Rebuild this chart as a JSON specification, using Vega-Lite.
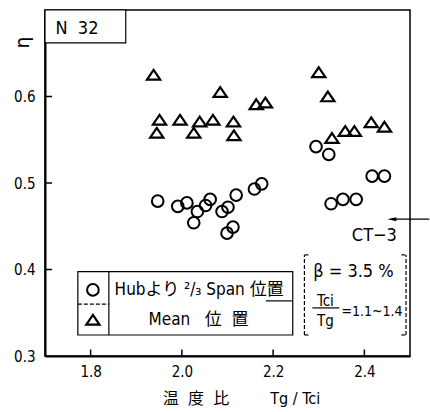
{
  "$schema": "https://vega.github.io/schema/vega-lite/v6.json",
  "width": 365,
  "height": 346,
  "autosize": {"type": "none"},
  "padding": {"left": 45, "top": 10, "right": 20, "bottom": 56},
  "background": "white",
  "config": {
    "font": "Liberation Sans Narrow, DejaVu Sans Condensed, Noto Sans CJK JP, sans-serif",
    "view": {"stroke": "black", "strokeWidth": 1.5},
    "axis": {
      "grid": false,
      "ticks": false,
      "domainColor": "black",
      "domainWidth": 2,
      "labelColor": "black",
      "labelFontSize": 15,
      "titleColor": "black",
      "titleFontWeight": "normal"
    }
  },
  "datasets": {
    "hub_span": [
      {"ratio": 1.947, "eta": 0.479},
      {"ratio": 1.991, "eta": 0.473},
      {"ratio": 2.011, "eta": 0.477},
      {"ratio": 2.034, "eta": 0.467},
      {"ratio": 2.026, "eta": 0.454},
      {"ratio": 2.052, "eta": 0.474},
      {"ratio": 2.062, "eta": 0.481},
      {"ratio": 2.088, "eta": 0.467},
      {"ratio": 2.101, "eta": 0.472},
      {"ratio": 2.119, "eta": 0.486},
      {"ratio": 2.099, "eta": 0.442},
      {"ratio": 2.112, "eta": 0.449},
      {"ratio": 2.159, "eta": 0.493},
      {"ratio": 2.175, "eta": 0.499},
      {"ratio": 2.294, "eta": 0.542},
      {"ratio": 2.322, "eta": 0.533},
      {"ratio": 2.417, "eta": 0.508},
      {"ratio": 2.444, "eta": 0.508},
      {"ratio": 2.327, "eta": 0.476},
      {"ratio": 2.353, "eta": 0.481},
      {"ratio": 2.382, "eta": 0.481}
    ],
    "mean": [
      {"ratio": 1.938, "eta": 0.625},
      {"ratio": 2.084, "eta": 0.605},
      {"ratio": 2.163, "eta": 0.591},
      {"ratio": 2.183, "eta": 0.593},
      {"ratio": 1.951, "eta": 0.573},
      {"ratio": 1.996, "eta": 0.573},
      {"ratio": 2.039, "eta": 0.571},
      {"ratio": 2.068, "eta": 0.573},
      {"ratio": 2.113, "eta": 0.571},
      {"ratio": 1.945, "eta": 0.558},
      {"ratio": 2.026, "eta": 0.558},
      {"ratio": 2.114, "eta": 0.555},
      {"ratio": 2.300, "eta": 0.628},
      {"ratio": 2.320, "eta": 0.600},
      {"ratio": 2.329, "eta": 0.552},
      {"ratio": 2.358, "eta": 0.560},
      {"ratio": 2.378, "eta": 0.560},
      {"ratio": 2.415, "eta": 0.570},
      {"ratio": 2.444, "eta": 0.565}
    ],
    "x_ticks": [{"value": 1.8}, {"value": 2.0}, {"value": 2.2}, {"value": 2.4}],
    "y_ticks": [{"value": 0.4}, {"value": 0.5}, {"value": 0.6}],
    "solid_lines": [
      {"x": 1.840, "x2": 1.840, "y": 0.3243, "y2": 0.3976},
      {"x": 2.184, "x2": 2.241, "y": 0.3637, "y2": 0.3637},
      {"x": 2.286, "x2": 2.345, "y": 0.3556, "y2": 0.3556},
      {"x": 2.458, "x2": 2.5424, "y": 0.4582, "y2": 0.4582}
    ],
    "dashed_lines": [
      {"x": 1.772, "x2": 1.840, "y": 0.360, "y2": 0.360},
      {"x": 2.2686, "x2": 2.2686, "y": 0.3243, "y2": 0.4169},
      {"x": 2.2686, "x2": 2.2796, "y": 0.4169, "y2": 0.4169},
      {"x": 2.2686, "x2": 2.2796, "y": 0.3243, "y2": 0.3243},
      {"x": 2.4913, "x2": 2.4913, "y": 0.3243, "y2": 0.4169},
      {"x": 2.481, "x2": 2.4913, "y": 0.4169, "y2": 0.4169},
      {"x": 2.481, "x2": 2.4913, "y": 0.3243, "y2": 0.3243}
    ]
  },
  "layer": [
    {
      "data": {"name": "hub_span"},
      "mark": {"type": "point", "shape": "circle", "filled": false, "color": "black", "strokeWidth": 2, "opacity": 1, "size": 135},
      "encoding": {
        "x": {
          "field": "ratio", "type": "quantitative",
          "scale": {"domain": [1.7, 2.5], "nice": false, "zero": false},
          "axis": {
            "values": [1.8, 2.0, 2.2, 2.4], "format": ".1f", "labelPadding": 8,
            "title": "温\u00a0\u00a0度\u00a0\u00a0比\u00a0\u00a0\u00a0\u00a0\u00a0\u00a0\u00a0\u00a0\u00a0Tg / Tci", "titleFontSize": 16,
            "titleX": 196, "titleY": 42, "titleAlign": "center", "titleBaseline": "middle"
          }
        },
        "y": {
          "field": "eta", "type": "quantitative",
          "scale": {"domain": [0.3, 0.7], "nice": false, "zero": false},
          "axis": {
            "values": [0.3, 0.4, 0.5, 0.6], "format": ".1f", "labelPadding": 10,
            "title": "η", "titleFontSize": 20, "titleAngle": -90,
            "titleX": -23, "titleY": 32, "titleAlign": "center", "titleBaseline": "middle"
          }
        }
      }
    },
    {
      "data": {"name": "mean"},
      "mark": {"type": "point", "shape": "M 0 -0.75 L 1 0.72 L -1 0.72 Z", "filled": false, "color": "black", "strokeWidth": 2.2, "opacity": 1, "size": 175},
      "encoding": {
        "x": {"field": "ratio", "type": "quantitative"},
        "y": {"field": "eta", "type": "quantitative"}
      }
    },
    {
      "data": {"name": "x_ticks"},
      "mark": {"type": "rule", "color": "black", "strokeWidth": 1.5},
      "encoding": {
        "x": {"field": "value", "type": "quantitative"},
        "y": {"datum": 0.3}, "y2": {"datum": 0.3075}
      }
    },
    {
      "data": {"name": "y_ticks"},
      "mark": {"type": "rule", "color": "black", "strokeWidth": 1.5},
      "encoding": {
        "y": {"field": "value", "type": "quantitative"},
        "x": {"datum": 1.7}, "x2": {"datum": 1.7155}
      }
    },
    {
      "data": {"values": [{}]},
      "mark": {"type": "rect", "fill": "white", "stroke": "black", "strokeWidth": 1.2},
      "encoding": {
        "x": {"datum": 1.7}, "x2": {"datum": 1.877},
        "y": {"datum": 0.7}, "y2": {"datum": 0.662}
      }
    },
    {
      "data": {"values": [{}]},
      "mark": {"type": "text", "text": "N\u00a0\u00a032", "fontSize": 18, "align": "center", "baseline": "middle", "color": "black"},
      "encoding": {"x": {"datum": 1.770}, "y": {"datum": 0.678}}
    },
    {
      "data": {"values": [{}]},
      "mark": {"type": "rect", "fill": "white", "stroke": "black", "strokeWidth": 1.2},
      "encoding": {
        "x": {"datum": 1.772}, "x2": {"datum": 2.243},
        "y": {"datum": 0.3976}, "y2": {"datum": 0.3243}
      }
    },
    {
      "data": {"name": "solid_lines"},
      "mark": {"type": "rule", "color": "black", "strokeWidth": 1.2},
      "encoding": {
        "x": {"field": "x", "type": "quantitative"}, "x2": {"field": "x2"},
        "y": {"field": "y", "type": "quantitative"}, "y2": {"field": "y2"}
      }
    },
    {
      "data": {"name": "dashed_lines"},
      "mark": {"type": "rule", "color": "black", "strokeWidth": 1.2, "strokeDash": [4, 2]},
      "encoding": {
        "x": {"field": "x", "type": "quantitative"}, "x2": {"field": "x2"},
        "y": {"field": "y", "type": "quantitative"}, "y2": {"field": "y2"}
      }
    },
    {
      "data": {"values": [{}]},
      "mark": {"type": "point", "shape": "circle", "filled": false, "color": "black", "strokeWidth": 2, "opacity": 1, "size": 135},
      "encoding": {"x": {"datum": 1.805}, "y": {"datum": 0.3764}}
    },
    {
      "data": {"values": [{}]},
      "mark": {"type": "point", "shape": "M 0 -0.75 L 1 0.72 L -1 0.72 Z", "filled": false, "color": "black", "strokeWidth": 2.2, "opacity": 1, "size": 175},
      "encoding": {"x": {"datum": 1.805}, "y": {"datum": 0.3417}}
    },
    {
      "data": {"values": [{}]},
      "mark": {"type": "text", "text": "Hubより ²/₃ Span 位置", "fontSize": 17, "align": "left", "baseline": "middle", "color": "black"},
      "encoding": {"x": {"datum": 1.8526}, "y": {"datum": 0.3764}}
    },
    {
      "data": {"values": [{}]},
      "mark": {"type": "text", "text": "Mean\u00a0\u00a0\u00a0位\u00a0\u00a0置", "fontSize": 17, "align": "center", "baseline": "middle", "color": "black"},
      "encoding": {"x": {"datum": 2.0365}, "y": {"datum": 0.3417}}
    },
    {
      "data": {"values": [{}]},
      "mark": {"type": "text", "text": "β = 3.5 %", "fontSize": 18, "align": "center", "baseline": "middle", "color": "black"},
      "encoding": {"x": {"datum": 2.376}, "y": {"datum": 0.3972}}
    },
    {
      "data": {"values": [{}]},
      "mark": {"type": "text", "text": "Tci", "fontSize": 15, "align": "center", "baseline": "middle", "color": "black"},
      "encoding": {"x": {"datum": 2.3146}, "y": {"datum": 0.3637}}
    },
    {
      "data": {"values": [{}]},
      "mark": {"type": "text", "text": "Tg", "fontSize": 15, "align": "center", "baseline": "middle", "color": "black"},
      "encoding": {"x": {"datum": 2.3146}, "y": {"datum": 0.3405}}
    },
    {
      "data": {"values": [{}]},
      "mark": {"type": "text", "text": "=1.1~1.4", "fontSize": 14, "align": "left", "baseline": "middle", "color": "black"},
      "encoding": {"x": {"datum": 2.3497}, "y": {"datum": 0.3509}}
    },
    {
      "data": {"values": [{}]},
      "mark": {"type": "text", "text": "CT−3", "fontSize": 18, "align": "center", "baseline": "middle", "color": "black"},
      "encoding": {"x": {"datum": 2.4219}, "y": {"datum": 0.4389}}
    },
    {
      "data": {"values": [{}]},
      "mark": {"type": "point", "shape": "M -1 0 L 1 -0.45 L 1 0.45 Z", "filled": true, "color": "black", "opacity": 1, "size": 81},
      "encoding": {"x": {"datum": 2.4603}, "y": {"datum": 0.4582}}
    }
  ]
}
